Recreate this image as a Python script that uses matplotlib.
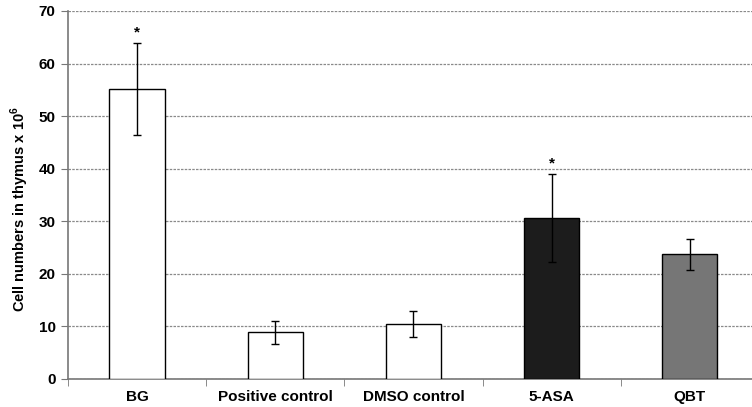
import matplotlib
matplotlib.use("Agg")
import matplotlib.pyplot as plt
import numpy as np

categories = ["BG", "Positive control", "DMSO control", "5-ASA", "QBT"]
means = [55.2, 8.9, 10.4, 30.6, 23.7]
errors = [8.7, 2.2, 2.5, 8.4, 3.0]
significant = [True, False, False, True, False]
colors = ["white", "white", "white", "#1c1c1c", "#767676"]

plt.rcParams['font.family'] = ['Liberation Sans', 'DejaVu Sans']
plt.rcParams['mathtext.fontset'] = 'custom'
plt.rcParams['mathtext.bf'] = 'Liberation Sans:bold'
plt.rcParams['mathtext.rm'] = 'Liberation Sans'

fig = plt.figure(figsize=(7.52, 4.07), dpi=100)
ax = fig.add_axes([68/752, 28/407, 1 - 68/752, 368/407])

x = np.arange(len(categories))
ax.bar(x, means, width=0.4, color=colors, edgecolor="black", linewidth=1.0, zorder=3)
ax.errorbar(x, means, yerr=errors, fmt="none", ecolor="black", elinewidth=1.0,
            capsize=3, capthick=1.0, zorder=4)
for xi, m, e, s in zip(x, means, errors, significant):
    if s:
        ax.text(xi, m + e + 0.6, "*", ha="center", va="bottom", fontsize=11, fontweight="bold")

ax.set_ylim(0, 70)
ax.set_xlim(-0.5, 4.45)
ax.set_yticks(range(0, 71, 10))
ax.yaxis.grid(True, linestyle=(0, (2, 1)), color="#8a8a8a", linewidth=0.9, zorder=0)
ax.set_axisbelow(True)

ax.set_xticks(x)
ax.set_xticklabels(categories, fontsize=11, fontweight="bold")
ax.set_xticks(np.arange(-0.5, 4.5, 1.0), minor=True)
ax.tick_params(axis="x", which="major", length=0, pad=8)
ax.tick_params(axis="x", which="minor", length=5, color="#777777", direction="out")
ax.tick_params(axis="y", length=5, color="#777777", labelsize=11, pad=4)
for lab in ax.get_yticklabels():
    lab.set_fontweight("bold")

ax.spines["top"].set_visible(False)
ax.spines["right"].set_visible(False)
ax.spines["left"].set_color("#777777")
ax.spines["bottom"].set_color("#777777")
ax.spines["left"].set_linewidth(1.2)
ax.spines["bottom"].set_linewidth(1.2)

ax.set_ylabel(r"Cell numbers in thymus x 10$^{\mathbf{6}}$", fontsize=10.5, fontweight="bold")
ax.yaxis.set_label_coords(-37/684, (379 - 209) / 368)

fig.savefig("out.png", dpi=100)
